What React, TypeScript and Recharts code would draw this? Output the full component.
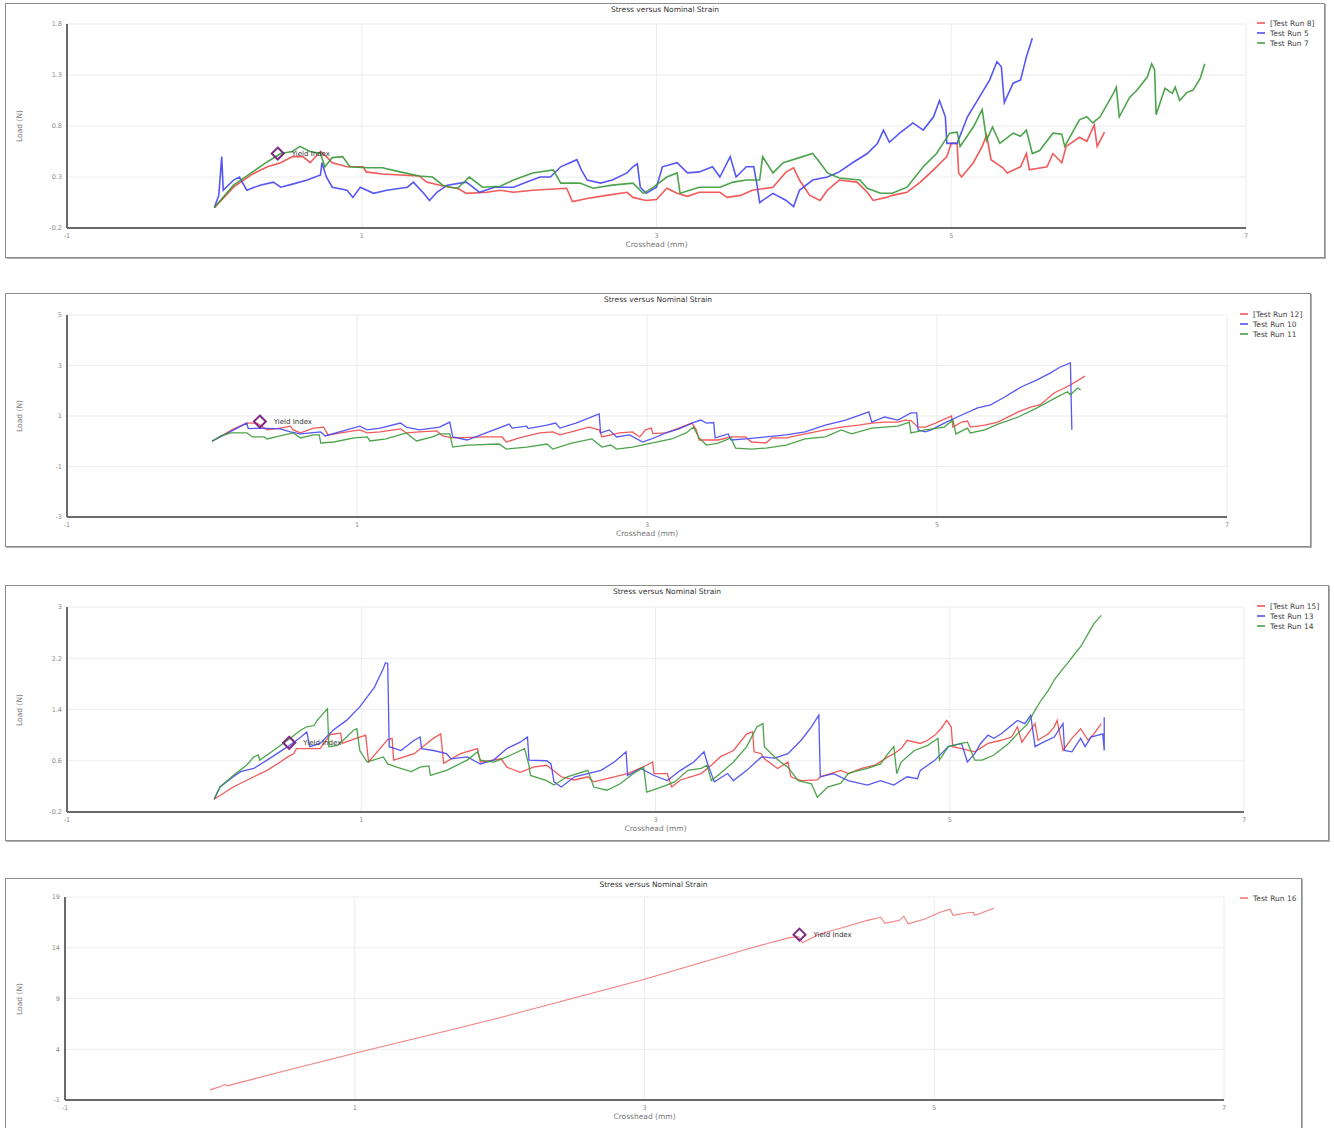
import React from 'react';
import { LineChart, Line, XAxis, YAxis, CartesianGrid, Legend, ReferenceDot } from 'recharts';

type Pt = [number, number];

// axis ticks
const xTicks = [-1, 1, 3, 5, 7];
const yTicksA = [-0.2, 0.3, 0.8, 1.3, 1.8];
const yTicksB = [-3, -1, 1, 3, 5];
const yTicksC = [-0.2, 0.6, 1.4, 2.2, 3];
const yTicksD = [-1, 4, 9, 14, 19];

// chart 1 - runs 8, 5, 7
const run8: Pt[] = [[0,0],[0.13,0.2],[0.26,0.33],[0.36,0.4],[0.45,0.44],[0.53,0.5],[0.6,0.5],[0.65,0.44],[0.72,0.55],[0.76,0.5],[0.8,0.44],[0.9,0.4],[1.01,0.4],[1.03,0.35],[1.14,0.33],[1.26,0.32],[1.39,0.31],[1.44,0.25],[1.53,0.22],[1.6,0.2],[1.65,0.19],[1.71,0.14],[1.85,0.15],[1.94,0.17],[2.03,0.15],[2.16,0.17],[2.39,0.19],[2.43,0.06],[2.53,0.09],[2.66,0.12],[2.8,0.15],[2.84,0.1],[2.93,0.07],[3.0,0.08],[3.07,0.19],[3.14,0.14],[3.21,0.11],[3.29,0.15],[3.43,0.15],[3.48,0.1],[3.57,0.12],[3.65,0.17],[3.79,0.2],[3.88,0.35],[3.93,0.39],[3.97,0.27],[4.04,0.12],[4.11,0.07],[4.16,0.17],[4.24,0.27],[4.36,0.25],[4.43,0.15],[4.47,0.07],[4.56,0.1],[4.6,0.12],[4.7,0.15],[4.79,0.25],[4.88,0.37],[4.97,0.5],[5.0,0.63],[5.04,0.63],[5.05,0.34],[5.07,0.3],[5.15,0.44],[5.21,0.6],[5.24,0.71],[5.27,0.47],[5.35,0.39],[5.38,0.34],[5.47,0.4],[5.51,0.53],[5.53,0.37],[5.65,0.4],[5.69,0.53],[5.75,0.44],[5.78,0.6],[5.87,0.69],[5.92,0.65],[5.97,0.81],[5.99,0.6],[6.04,0.74]];
const run5: Pt[] = [[0,0],[0.03,0.12],[0.05,0.5],[0.06,0.17],[0.13,0.27],[0.17,0.3],[0.22,0.17],[0.31,0.22],[0.4,0.25],[0.45,0.2],[0.53,0.23],[0.63,0.27],[0.72,0.32],[0.73,0.44],[0.76,0.3],[0.8,0.2],[0.9,0.17],[0.94,0.1],[0.99,0.2],[1.08,0.14],[1.17,0.17],[1.31,0.2],[1.35,0.25],[1.42,0.14],[1.46,0.07],[1.51,0.15],[1.58,0.22],[1.71,0.25],[1.8,0.15],[1.9,0.2],[2.03,0.2],[2.12,0.25],[2.21,0.3],[2.28,0.3],[2.35,0.4],[2.46,0.47],[2.49,0.37],[2.53,0.27],[2.62,0.24],[2.7,0.27],[2.8,0.34],[2.84,0.4],[2.87,0.43],[2.89,0.2],[2.93,0.14],[3.0,0.2],[3.04,0.4],[3.14,0.44],[3.21,0.34],[3.29,0.35],[3.38,0.4],[3.43,0.3],[3.5,0.5],[3.54,0.3],[3.61,0.4],[3.66,0.4],[3.68,0.24],[3.7,0.05],[3.79,0.14],[3.88,0.07],[3.93,0.01],[3.97,0.17],[4.06,0.27],[4.16,0.3],[4.24,0.35],[4.33,0.44],[4.43,0.53],[4.5,0.63],[4.54,0.76],[4.58,0.64],[4.65,0.73],[4.74,0.83],[4.81,0.76],[4.88,0.89],[4.92,1.05],[4.96,0.89],[4.97,0.63],[5.04,0.63],[5.11,0.89],[5.19,1.08],[5.26,1.25],[5.31,1.43],[5.34,1.38],[5.36,1.03],[5.42,1.22],[5.47,1.25],[5.51,1.48],[5.55,1.66]];
const run7: Pt[] = [[0,0],[0.13,0.22],[0.26,0.35],[0.36,0.45],[0.45,0.53],[0.53,0.55],[0.58,0.6],[0.65,0.55],[0.72,0.53],[0.75,0.4],[0.8,0.49],[0.87,0.5],[0.92,0.4],[1.03,0.39],[1.14,0.39],[1.26,0.35],[1.39,0.31],[1.48,0.3],[1.55,0.22],[1.6,0.2],[1.65,0.19],[1.73,0.3],[1.82,0.2],[1.94,0.21],[2.03,0.27],[2.16,0.34],[2.3,0.37],[2.35,0.24],[2.48,0.24],[2.57,0.19],[2.7,0.22],[2.84,0.24],[2.91,0.14],[2.98,0.2],[3.07,0.3],[3.14,0.34],[3.16,0.14],[3.29,0.2],[3.43,0.2],[3.52,0.25],[3.61,0.27],[3.7,0.27],[3.72,0.5],[3.79,0.34],[3.86,0.44],[3.97,0.49],[4.06,0.53],[4.11,0.44],[4.16,0.34],[4.24,0.29],[4.38,0.27],[4.43,0.19],[4.52,0.14],[4.6,0.14],[4.7,0.2],[4.81,0.4],[4.9,0.53],[4.99,0.73],[5.04,0.74],[5.06,0.6],[5.15,0.79],[5.21,0.96],[5.24,0.66],[5.28,0.79],[5.33,0.63],[5.42,0.73],[5.47,0.7],[5.51,0.76],[5.55,0.53],[5.6,0.56],[5.69,0.73],[5.75,0.72],[5.77,0.6],[5.87,0.86],[5.92,0.89],[5.96,0.83],[6.01,0.89],[6.1,1.12],[6.12,1.18],[6.14,0.89],[6.21,1.08],[6.26,1.15],[6.33,1.28],[6.36,1.41],[6.38,1.35],[6.39,0.91],[6.45,1.17],[6.5,1.12],[6.52,1.18],[6.55,1.05],[6.6,1.13],[6.64,1.15],[6.69,1.27],[6.72,1.41]];

// chart 2 - runs 12, 10, 11
const run12: Pt[] = [[0,0],[0.15,0.49],[0.24,0.72],[0.31,0.72],[0.38,0.45],[0.47,0.52],[0.54,0.6],[0.56,0.45],[0.61,0.33],[0.7,0.52],[0.77,0.56],[0.8,0.25],[0.93,0.37],[1.02,0.45],[1.07,0.33],[1.16,0.37],[1.3,0.49],[1.34,0.33],[1.43,0.37],[1.55,0.41],[1.59,0.21],[1.66,0.13],[1.89,0.17],[2.0,0.17],[2.03,-0.03],[2.12,0.13],[2.26,0.33],[2.35,0.37],[2.4,0.25],[2.53,0.45],[2.6,0.56],[2.67,0.45],[2.69,0.17],[2.81,0.33],[2.9,0.37],[2.95,0.17],[2.99,0.45],[3.03,0.52],[3.04,0.3],[3.13,0.33],[3.22,0.52],[3.31,0.72],[3.34,0.45],[3.36,0.05],[3.49,0.05],[3.58,0.17],[3.68,0.17],[3.72,-0.03],[3.82,-0.07],[3.86,0.13],[3.96,0.13],[4.09,0.29],[4.23,0.45],[4.34,0.56],[4.46,0.64],[4.55,0.72],[4.64,0.76],[4.73,0.76],[4.78,0.84],[4.82,0.82],[4.87,0.56],[4.92,0.56],[4.99,0.72],[5.1,1.0],[5.11,0.56],[5.17,0.76],[5.21,0.8],[5.23,0.56],[5.33,0.64],[5.42,0.76],[5.56,1.16],[5.65,1.36],[5.71,1.44],[5.81,1.92],[5.88,2.11],[5.92,2.23],[6.02,2.58]];
const run10: Pt[] = [[0,0],[0.15,0.45],[0.24,0.72],[0.25,0.5],[0.33,0.52],[0.47,0.49],[0.54,0.37],[0.61,0.29],[0.75,0.37],[0.78,0.21],[0.88,0.37],[1.02,0.6],[1.07,0.45],[1.16,0.52],[1.3,0.72],[1.34,0.56],[1.43,0.45],[1.57,0.56],[1.64,0.76],[1.66,0.17],[1.76,0.05],[1.89,0.33],[2.05,0.68],[2.07,0.52],[2.17,0.6],[2.18,0.5],[2.31,0.64],[2.37,0.72],[2.4,0.52],[2.51,0.72],[2.67,1.08],[2.68,0.33],[2.74,0.45],[2.79,0.17],[2.88,0.25],[2.97,-0.03],[3.03,0.09],[3.13,0.33],[3.22,0.49],[3.31,0.72],[3.37,0.84],[3.41,0.72],[3.46,0.74],[3.47,0.13],[3.56,0.29],[3.58,0.05],[3.7,0.1],[3.82,0.17],[3.96,0.25],[4.09,0.37],[4.23,0.64],[4.37,0.84],[4.53,1.16],[4.55,0.76],[4.64,0.96],[4.73,0.84],[4.82,1.12],[4.86,1.12],[4.87,0.45],[4.92,0.37],[4.96,0.45],[5.05,0.72],[5.14,0.96],[5.28,1.32],[5.37,1.44],[5.47,1.76],[5.58,2.15],[5.69,2.43],[5.78,2.7],[5.85,2.94],[5.92,3.1],[5.93,0.45]];
const run11: Pt[] = [[0,0],[0.06,0.21],[0.13,0.33],[0.24,0.33],[0.28,0.17],[0.36,0.17],[0.38,0.09],[0.47,0.21],[0.56,0.33],[0.61,0.13],[0.7,0.25],[0.74,0.25],[0.75,-0.07],[0.84,-0.03],[0.98,0.13],[1.07,0.17],[1.09,0.01],[1.2,0.09],[1.34,0.33],[1.41,0.01],[1.52,0.17],[1.57,0.29],[1.64,0.29],[1.66,-0.23],[1.76,-0.15],[1.98,-0.11],[2.03,-0.31],[2.17,-0.23],[2.31,-0.11],[2.35,-0.31],[2.48,-0.07],[2.62,0.09],[2.69,-0.23],[2.75,-0.15],[2.79,-0.31],[2.9,-0.23],[3.03,-0.07],[3.17,0.09],[3.27,0.33],[3.32,0.56],[3.36,0.13],[3.41,-0.15],[3.49,-0.07],[3.58,0.13],[3.61,-0.27],[3.72,-0.31],[3.82,-0.27],[3.96,-0.15],[4.09,0.09],[4.23,0.17],[4.34,0.45],[4.41,0.29],[4.55,0.52],[4.64,0.56],[4.73,0.6],[4.81,0.76],[4.82,0.33],[4.92,0.45],[5.05,0.56],[5.11,0.84],[5.13,0.29],[5.21,0.52],[5.23,0.33],[5.33,0.45],[5.42,0.68],[5.56,0.96],[5.69,1.32],[5.83,1.76],[5.9,1.96],[5.92,1.84],[5.97,2.11],[5.99,2.03]];

// chart 3 - runs 15, 13, 14
const run15: Pt[] = [[0,0],[0.13,0.19],[0.27,0.35],[0.36,0.45],[0.45,0.58],[0.5,0.66],[0.54,0.71],[0.56,0.79],[0.72,0.79],[0.79,1.01],[0.86,1.03],[0.87,0.87],[0.99,0.97],[1.03,1.0],[1.05,0.58],[1.18,0.93],[1.21,0.95],[1.22,0.61],[1.36,0.71],[1.49,0.95],[1.54,1.02],[1.56,0.56],[1.675,0.71],[1.79,0.79],[1.81,0.58],[1.95,0.63],[1.99,0.5],[2.08,0.42],[2.17,0.5],[2.26,0.53],[2.36,0.35],[2.45,0.3],[2.54,0.35],[2.58,0.27],[2.67,0.32],[2.81,0.4],[2.94,0.53],[2.98,0.58],[2.99,0.4],[3.08,0.4],[3.11,0.19],[3.17,0.3],[3.31,0.4],[3.38,0.53],[3.44,0.66],[3.53,0.76],[3.62,1.02],[3.66,1.05],[3.67,0.74],[3.72,0.71],[3.74,0.63],[3.83,0.48],[3.9,0.58],[3.92,0.35],[3.99,0.29],[4.1,0.3],[4.12,0.35],[4.19,0.4],[4.26,0.45],[4.31,0.4],[4.4,0.48],[4.49,0.53],[4.58,0.66],[4.62,0.71],[4.67,0.79],[4.71,0.92],[4.8,0.87],[4.85,0.92],[4.9,1.0],[4.94,1.1],[4.98,1.23],[5.01,1.13],[5.02,0.82],[5.08,0.79],[5.17,0.74],[5.26,0.87],[5.35,0.92],[5.42,0.97],[5.46,1.13],[5.49,0.89],[5.58,1.18],[5.6,0.92],[5.67,1.02],[5.71,1.13],[5.73,1.23],[5.77,0.76],[5.83,0.95],[5.89,1.1],[5.94,0.92],[5.98,1.02],[6.03,1.18]];
const run13: Pt[] = [[0,0],[0.04,0.19],[0.13,0.35],[0.18,0.43],[0.27,0.48],[0.36,0.61],[0.5,0.82],[0.59,0.97],[0.63,1.05],[0.65,0.82],[0.72,0.87],[0.81,1.08],[0.9,1.23],[0.99,1.44],[1.09,1.75],[1.15,2.04],[1.165,2.13],[1.18,2.12],[1.19,0.82],[1.27,0.76],[1.36,0.92],[1.4,0.97],[1.41,0.79],[1.49,0.76],[1.58,0.71],[1.61,0.63],[1.72,0.66],[1.81,0.55],[1.9,0.61],[1.99,0.79],[2.08,0.89],[2.13,0.97],[2.14,0.61],[2.26,0.6],[2.29,0.55],[2.31,0.27],[2.36,0.19],[2.45,0.35],[2.54,0.4],[2.63,0.45],[2.72,0.58],[2.8,0.74],[2.81,0.37],[2.9,0.48],[2.99,0.37],[3.08,0.29],[3.17,0.45],[3.26,0.58],[3.33,0.74],[3.35,0.58],[3.4,0.27],[3.49,0.4],[3.53,0.29],[3.62,0.45],[3.72,0.66],[3.81,0.64],[3.9,0.71],[3.99,0.92],[4.06,1.13],[4.11,1.31],[4.12,0.35],[4.21,0.4],[4.31,0.29],[4.44,0.22],[4.53,0.29],[4.62,0.22],[4.71,0.35],[4.78,0.32],[4.8,0.45],[4.9,0.61],[4.99,0.82],[5.08,0.87],[5.12,0.58],[5.17,0.71],[5.21,0.87],[5.26,1.0],[5.3,0.95],[5.35,1.02],[5.46,1.23],[5.51,1.18],[5.55,1.31],[5.58,0.82],[5.62,0.87],[5.71,0.97],[5.77,1.18],[5.78,0.76],[5.83,0.74],[5.89,0.95],[5.92,0.82],[5.96,0.97],[6.04,1.02],[6.05,0.76],[6.05,1.28]];
const run14: Pt[] = [[0,0],[0.04,0.19],[0.13,0.37],[0.22,0.53],[0.27,0.66],[0.3,0.69],[0.31,0.61],[0.36,0.69],[0.5,0.92],[0.59,1.08],[0.63,1.13],[0.68,1.15],[0.7,1.23],[0.77,1.41],[0.78,0.82],[0.84,0.84],[0.95,1.08],[0.97,1.1],[0.99,0.76],[1.04,0.58],[1.15,0.66],[1.18,0.55],[1.24,0.5],[1.34,0.43],[1.4,0.5],[1.46,0.52],[1.47,0.37],[1.58,0.45],[1.72,0.61],[1.79,0.74],[1.81,0.61],[1.9,0.58],[1.99,0.66],[2.11,0.79],[2.14,0.53],[2.15,0.37],[2.26,0.29],[2.31,0.22],[2.4,0.35],[2.54,0.45],[2.58,0.19],[2.67,0.14],[2.76,0.24],[2.85,0.4],[2.92,0.5],[2.94,0.11],[3.04,0.19],[3.13,0.27],[3.22,0.45],[3.31,0.48],[3.35,0.53],[3.38,0.29],[3.44,0.4],[3.53,0.58],[3.62,0.82],[3.69,1.13],[3.73,1.18],[3.74,0.82],[3.81,0.66],[3.85,0.58],[3.9,0.5],[3.97,0.29],[4.06,0.24],[4.1,0.03],[4.17,0.19],[4.26,0.25],[4.31,0.4],[4.35,0.43],[4.44,0.48],[4.53,0.55],[4.58,0.71],[4.62,0.82],[4.64,0.4],[4.67,0.58],[4.76,0.76],[4.85,0.84],[4.92,0.95],[4.93,0.61],[4.99,0.82],[5.08,0.87],[5.12,0.89],[5.17,0.61],[5.22,0.61],[5.3,0.69],[5.4,0.87],[5.46,1.02],[5.53,1.18],[5.58,1.39],[5.62,1.54],[5.67,1.7],[5.71,1.86],[5.76,2.01],[5.8,2.12],[5.85,2.27],[5.89,2.38],[5.94,2.58],[5.98,2.74],[6.03,2.87]];

// chart 4 - run 16
const run16: Pt[] = [[0,0],[0.08,0.35],[0.1,0.55],[0.12,0.4],[0.5,1.8],[1.0,3.6],[1.66,5.9],[2.0,7.1],[2.5,9.0],[3.0,10.9],[3.36,12.4],[3.74,14.0],[4.0,15.0],[4.06,15.1],[4.09,14.5],[4.2,15.3],[4.37,16.0],[4.54,16.7],[4.63,17.0],[4.66,16.4],[4.76,16.7],[4.79,17.1],[4.82,16.35],[4.93,16.8],[5.04,17.5],[5.11,17.8],[5.13,17.2],[5.21,17.4],[5.27,17.5],[5.28,17.2],[5.32,17.4],[5.41,17.9]];

// yield index points
const yield1: Pt = [0.43, 0.53];
const yield2: Pt = [0.33, 0.78];
const yield3: Pt = [0.51, 0.88];
const yield4: Pt = [4.07, 15.29];

const RED = '#f04848';
const BLUE = '#4545f2';
const GREEN = '#3a9a3a';
const FONT = '"DejaVu Sans", sans-serif';
const Y_W = 30;
const X_H = 14;

interface Series { name: string; color: string; points: Pt[] }
interface Box { left: number; top: number; width: number; height: number }
interface Margin { top: number; right: number; bottom: number; left: number }

const toRows = (pts: Pt[]) => pts.map(([x, y]) => ({ x, y }));

const Diamond = (props: any) => {
  const { cx, cy } = props;
  const s = 6;
  return (
    <polygon
      points={`${cx},${cy - s} ${cx + s},${cy} ${cx},${cy + s} ${cx - s},${cy}`}
      fill="none"
      stroke="#7d2a82"
      strokeWidth={2}
    />
  );
};

const StressChart = ({ box, margin, yTicks, series, yieldPt, legendPos, lineWidth }: {
  box: Box; margin: Margin; yTicks: number[]; series: Series[]; yieldPt: Pt;
  legendPos: { left: number; top: number }; lineWidth: number;
}) => {
  const w = box.width - 2;
  const h = box.height - 2;
  const plotLeft = margin.left + Y_W;
  const plotRight = w - margin.right;
  const plotTop = margin.top;
  const plotBottom = h - margin.bottom - X_H;
  const txt = { position: 'absolute' as const, fontFamily: FONT, whiteSpace: 'nowrap' as const, lineHeight: '10px' };

  return (
    <div style={{ position: 'absolute', left: box.left, top: box.top, width: w, height: h, border: '1px solid #8c8c8c', boxShadow: '1px 1px 0 #b0b0b0', background: '#fff' }}>
      <LineChart width={w} height={h} margin={margin}>
        <CartesianGrid stroke="#ececec" strokeWidth={1} />
        <XAxis
          type="number"
          dataKey="x"
          domain={[-1, 7]}
          ticks={xTicks}
          interval={0}
          height={X_H}
          tickLine={false}
          tickSize={3}
          axisLine={{ stroke: '#6a6a6a', strokeWidth: 2 }}
          tick={{ fontSize: 6.5, fill: '#8a8a8a', fontFamily: FONT }}
          allowDataOverflow
        />
        <YAxis
          type="number"
          dataKey="y"
          domain={[yTicks[0], yTicks[yTicks.length - 1]]}
          ticks={yTicks}
          interval={0}
          width={Y_W}
          tickLine={false}
          tickSize={3}
          axisLine={{ stroke: '#6a6a6a', strokeWidth: 2 }}
          tick={{ fontSize: 6.5, fill: '#8a8a8a', fontFamily: FONT }}
          allowDataOverflow
        />
        {series.map((s) => (
          <Line
            key={s.name}
            name={s.name}
            data={toRows(s.points)}
            dataKey="y"
            type="linear"
            stroke={s.color}
            strokeWidth={lineWidth}
            strokeOpacity={0.9}
            dot={false}
            activeDot={false}
            isAnimationActive={false}
          />
        ))}
        <ReferenceDot
          x={yieldPt[0]}
          y={yieldPt[1]}
          r={6}
          shape={Diamond}
          label={{ value: 'Yield Index', position: 'right', offset: 8, fontSize: 7, fill: '#333', fontFamily: FONT }}
        />
        <Legend
          layout="vertical"
          align="center"
          verticalAlign="middle"
          wrapperStyle={{ left: legendPos.left, top: legendPos.top, width: 80 }}
          content={() => (
            <div>
              {series.map((s) => (
                <div key={s.name} style={{ display: 'flex', alignItems: 'center', height: 10, fontSize: 7.5, color: '#444', fontFamily: FONT, whiteSpace: 'nowrap' }}>
                  <span style={{ display: 'inline-block', width: 8, height: 1.5, background: s.color, opacity: 0.75, marginRight: 5 }} />
                  {s.name}
                </div>
              ))}
            </div>
          )}
        />
      </LineChart>
      <div style={{ ...txt, left: 0, width: w, top: 1, textAlign: 'center', fontSize: 7.5, color: '#333' }}>
        Stress versus Nominal Strain
      </div>
      <div style={{ ...txt, left: plotLeft, width: plotRight - plotLeft, top: plotBottom + 12, textAlign: 'center', fontSize: 7.5, color: '#777' }}>
        Crosshead (mm)
      </div>
      <div style={{ ...txt, left: 14 - 30, width: 60, top: (plotTop + plotBottom) / 2 - 5, textAlign: 'center', fontSize: 7.5, color: '#777', transform: 'rotate(-90deg)' }}>
        Load (N)
      </div>
    </div>
  );
};

export default function App() {
  return (
    <div style={{ position: 'absolute', left: 0, top: 0, width: 1334, height: 1128, background: '#fff', overflow: 'hidden' }}>
      <StressChart
        box={{ left: 5, top: 3, width: 1320, height: 255 }}
        margin={{ top: 20, right: 78, bottom: 15, left: 31 }}
        yTicks={yTicksA}
        series={[
          { name: '[Test Run 8]', color: RED, points: run8 },
          { name: 'Test Run 5', color: BLUE, points: run5 },
          { name: 'Test Run 7', color: GREEN, points: run7 },
        ]}
        yieldPt={yield1}
        legendPos={{ left: 1251, top: 14 }}
        lineWidth={1.6}
      />
      <StressChart
        box={{ left: 5, top: 293, width: 1306, height: 254 }}
        margin={{ top: 21, right: 83, bottom: 15, left: 31 }}
        yTicks={yTicksB}
        series={[
          { name: '[Test Run 12]', color: RED, points: run12 },
          { name: 'Test Run 10', color: BLUE, points: run10 },
          { name: 'Test Run 11', color: GREEN, points: run11 },
        ]}
        yieldPt={yield2}
        legendPos={{ left: 1234, top: 15 }}
        lineWidth={1.3}
      />
      <StressChart
        box={{ left: 5, top: 585, width: 1324, height: 256 }}
        margin={{ top: 21, right: 84, bottom: 14, left: 31 }}
        yTicks={yTicksC}
        series={[
          { name: '[Test Run 15]', color: RED, points: run15 },
          { name: 'Test Run 13', color: BLUE, points: run13 },
          { name: 'Test Run 14', color: GREEN, points: run14 },
        ]}
        yieldPt={yield3}
        legendPos={{ left: 1251, top: 15 }}
        lineWidth={1.3}
      />
      <StressChart
        box={{ left: 5, top: 878, width: 1297, height: 252 }}
        margin={{ top: 18, right: 77, bottom: 15, left: 29 }}
        yTicks={yTicksD}
        series={[{ name: 'Test Run 16', color: '#f07272', points: run16 }]}
        yieldPt={yield4}
        legendPos={{ left: 1234, top: 14 }}
        lineWidth={1.1}
      />
    </div>
  );
}
